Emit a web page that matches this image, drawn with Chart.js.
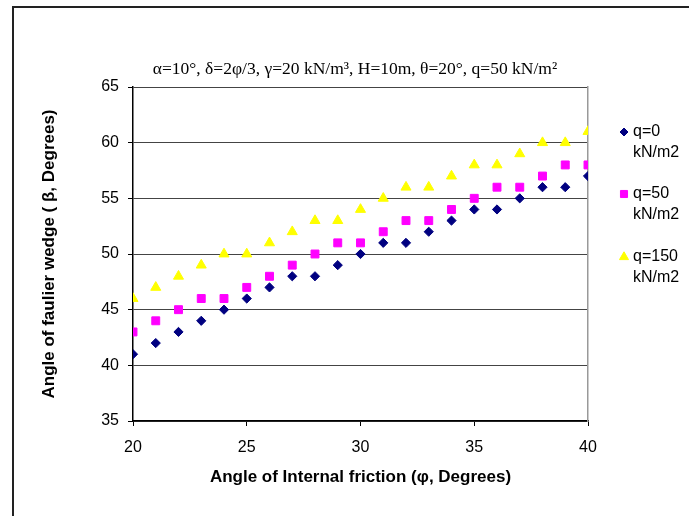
<!DOCTYPE html>
<html>
<head>
<meta charset="utf-8">
<script src="https://cdn.jsdelivr.net/npm/chart.js@4.4.0/dist/chart.umd.min.js"></script>
<style>
  html, body { margin: 0; padding: 0; background: #fff; }
  canvas { display: block; }
</style>
</head>
<body>
<canvas id="chart" width="689" height="516"></canvas>
<script>
// angle of internal friction (degrees)
const phi = [20, 21, 22, 23, 24, 25, 26, 27, 28, 29, 30, 31, 32, 33, 34, 35, 36, 37, 38, 39, 40];
// angle of failure wedge for each surcharge
const q0   = [41, 42, 43, 44, 45, 46, 47, 48, 48, 49, 50, 51, 51, 52, 53, 54, 54, 55, 56, 56, 57];
const q50  = [43, 44, 45, 46, 46, 47, 48, 49, 50, 51, 51, 52, 53, 53, 54, 55, 56, 56, 57, 58, 58];
const q150 = [46, 47, 48, 49, 50, 50, 51, 52, 53, 53, 54, 55, 56, 56, 57, 58, 58, 59, 60, 60, 61];

const legendText = [['q=0', 'kN/m2'], ['q=50', 'kN/m2'], ['q=150', 'kN/m2']];
const xTicks = [20, 25, 30, 35, 40];
const yTicks = [35, 40, 45, 50, 55, 60, 65];

const titleText = 'α=10°, δ=2φ/3, γ=20 kN/m³, H=10m, θ=20°, q=50 kN/m²';

const toPoints = vals => vals.map((v, i) => ({ x: phi[i], y: v }));

const markers = [
  { style: 'rectRot', color: '#000080', radius: 4.6, legendRadius: 4 },
  { style: 'rect', color: '#FF00FF', radius: 5.6, legendRadius: 5 },
  { style: 'triangle', color: '#FFFF00', radius: 5.8, legendRadius: 5.2 }
];

const series = [q0, q50, q150];

// frame and side legend, drawn by hand
const extras = {
  id: 'extras',
  afterDraw(chart) {
    const ctx = chart.ctx;
    ctx.save();
    ctx.strokeStyle = '#222';
    ctx.lineWidth = 2;
    ctx.beginPath();
    ctx.moveTo(13, 516);
    ctx.lineTo(13, 7);
    ctx.lineTo(689, 7);
    ctx.stroke();

    const rows = [132, 194, 257];
    ctx.font = '16px "Liberation Sans", Arial, sans-serif';
    ctx.textBaseline = 'middle';
    ctx.textAlign = 'left';
    legendText.forEach((lines, i) => {
      const m = markers[i];
      ctx.fillStyle = m.color;
      ctx.strokeStyle = m.color;
      ctx.lineWidth = 1;
      Chart.helpers.drawPoint(ctx, { pointStyle: m.style, radius: m.legendRadius, rotation: 0, borderWidth: 1 }, 624, rows[i]);
      ctx.fillStyle = '#000';
      lines.forEach((t, j) => ctx.fillText(t, 633, rows[i] + j * 20.5));
    });
    ctx.restore();
  }
};

const axisFont = { family: '"Liberation Sans", Arial, sans-serif', size: 16 };
const titleFont = { family: '"Liberation Sans", Arial, sans-serif', size: 17, weight: 'bold' };

new Chart(document.getElementById('chart'), {
  type: 'scatter',
  data: {
    datasets: series.map((vals, i) => ({
      label: legendText[i].join(' '),
      data: toPoints(vals),
      pointStyle: markers[i].style,
      pointRadius: markers[i].radius,
      pointHoverRadius: markers[i].radius,
      backgroundColor: markers[i].color,
      borderColor: markers[i].color,
      borderWidth: 1
    }))
  },
  options: {
    responsive: false,
    animation: false,
    layout: { padding: { left: 21, right: 0, top: 0, bottom: 0 } },
    plugins: {
      legend: { display: false },
      tooltip: { enabled: false },
      title: {
        display: true,
        text: titleText,
        color: '#000',
        font: { family: '"Liberation Serif", "Times New Roman", serif', size: 17.5, weight: 'normal' },
        padding: { top: 58.5, bottom: 7.5 }
      }
    },
    scales: {
      x: {
        type: 'linear',
        min: 20,
        max: 40,
        afterBuildTicks(s) { s.ticks = xTicks.map(v => ({ value: v })); },
        afterFit(s) { s.height = 95; },
        ticks: { color: '#000', padding: 12, font: axisFont },
        grid: { drawOnChartArea: false, drawTicks: true, tickLength: 5, color: '#000' },
        border: { display: true, color: '#000', width: 1.5 },
        title: {
          display: true,
          text: 'Angle of Internal friction (φ, Degrees)',
          color: '#000',
          font: titleFont,
          padding: { top: 0, bottom: 28.8 }
        }
      },
      y: {
        min: 35,
        max: 65,
        afterBuildTicks(s) { s.ticks = yTicks.map(v => ({ value: v })); },
        afterFit(s) { s.width = 112; },
        ticks: { color: '#000', padding: 9, font: axisFont },
        grid: { color: '#444', lineWidth: 1, tickLength: 5, tickColor: '#000' },
        border: { display: true, color: '#000', width: 1.5 },
        title: {
          display: true,
          text: 'Angle of faulier wedge ( β, Degrees)',
          color: '#000',
          font: titleFont,
          padding: { top: 17.8, bottom: 0 }
        }
      },
      y2: {
        position: 'right',
        min: 35,
        max: 65,
        afterFit(s) { s.width = 101; },
        ticks: { display: false },
        grid: { display: false, drawTicks: false },
        border: { display: true, color: '#999', width: 1.5 }
      }
    }
  },
  plugins: [extras]
});
</script>
</body>
</html>
